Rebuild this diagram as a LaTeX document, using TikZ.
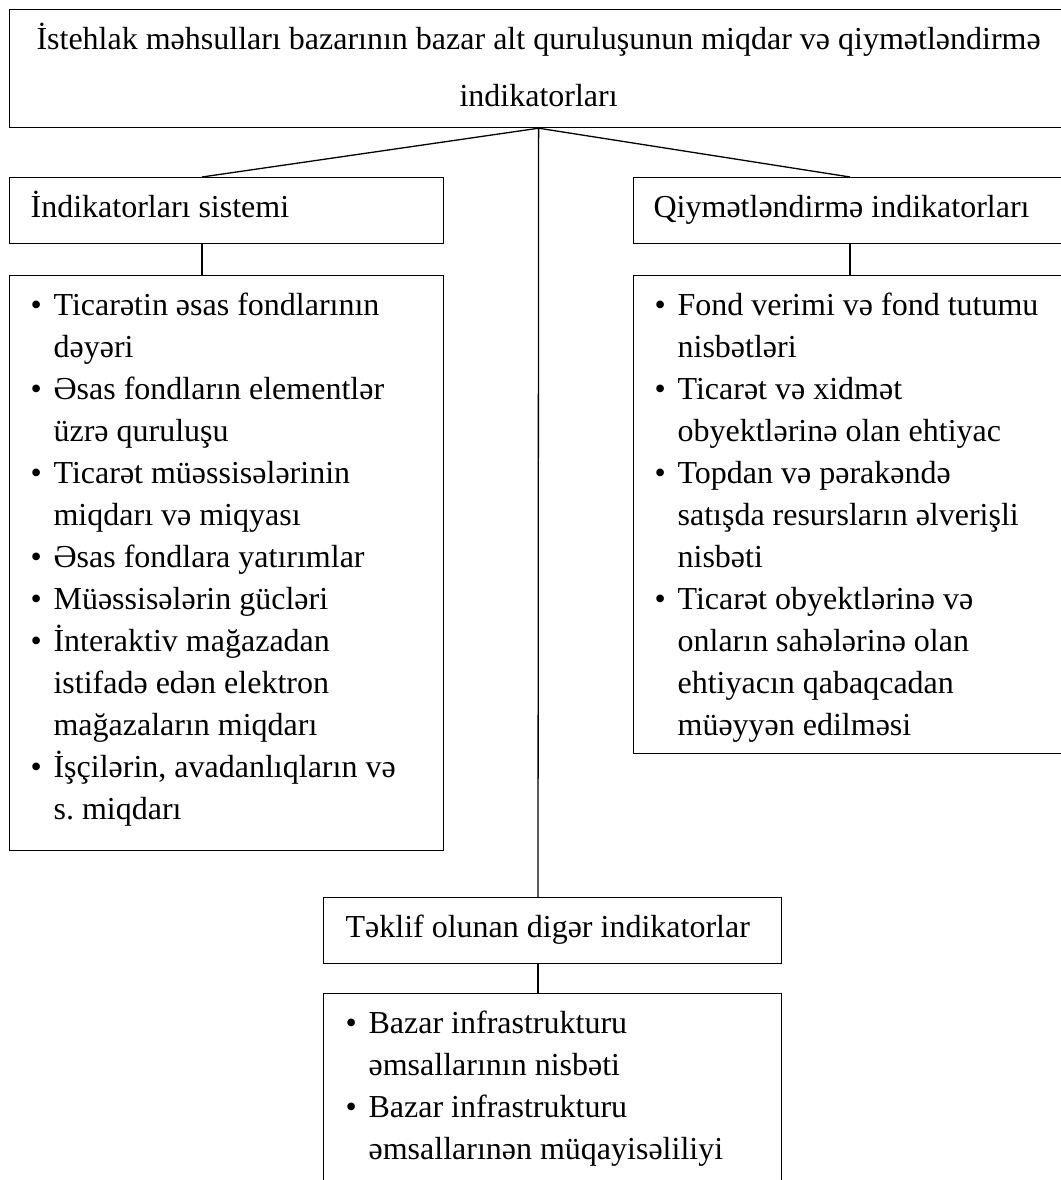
\documentclass[tikz,border=0pt]{standalone}
\usepackage{fontspec}
\setmainfont{Liberation Serif}
\usepackage{tikz}
\usetikzlibrary{positioning}

\newcommand{\cell}[4]{\parbox[c][#2][t]{#1}{\parindent=0pt\leftskip=#3\relax\rightskip=0pt plus 1fil\frenchspacing\fontsize{32}{42}\selectfont\vspace*{10pt}#4}}
\newcommand{\strt}{\rule{0pt}{30pt}}
\newcommand{\itm}{\par\strt\hspace*{-23pt}\makebox[23pt][l]{•}}

\begin{document}
\begin{tikzpicture}[x=1pt, y=-1pt]
\tikzstyle{box} = [draw, line width=1.2pt, inner sep=0pt, anchor=north west]
\tikzstyle{link} = [line width=1.3pt]
\useasboundingbox (0,0) rectangle (1060,1180);
\node[box] (title) at (9,9) {\cell{1058pt}{118pt}{0pt}{\centering\baselineskip=57pt\strt İstehlak məhsulları bazarının bazar alt quruluşunun miqdar və qiymətləndirmə\\indikatorları}};
\node[box] (sysL) at (9,177) {\cell{434pt}{66pt}{21pt}{\strt İndikatorları sistemi}};
\node[box] (sysR) at (633,177) {\cell{440pt}{66pt}{20pt}{\strt Qiymətləndirmə indikatorları}};
\node[box] (lstL) at (9,275) {\cell{434pt}{575pt}{44pt}{%
\itm Ticarətin əsas fondlarının\\dəyəri
\itm Əsas fondların elementlər\\üzrə quruluşu
\itm Ticarət müəssisələrinin\\miqdarı və miqyası
\itm Əsas fondlara yatırımlar
\itm Müəssisələrin gücləri
\itm İnteraktiv mağazadan\\istifadə edən elektron\\mağazaların miqdarı
\itm İşçilərin, avadanlıqların və\\s. miqdarı}};
\node[box] (lstR) at (633,275) {\cell{440pt}{478pt}{44pt}{%
\itm Fond verimi və fond tutumu\\nisbətləri
\itm Ticarət və xidmət\\obyektlərinə olan ehtiyac
\itm Topdan və pərakəndə\\satışda resursların əlverişli\\nisbəti
\itm Ticarət obyektlərinə və\\onların sahələrinə olan\\ehtiyacın qabaqcadan\\müəyyən edilməsi}};
\node[box] (other) at (323,897) {\cell{458pt}{66pt}{22pt}{\strt Təklif olunan digər indikatorlar}};
\node[box] (lstB) at (323,993) {\cell{458pt}{200pt}{45pt}{%
\itm Bazar infrastrukturu\\əmsallarının nisbəti
\itm Bazar infrastrukturu\\əmsallarınən müqayisəliliyi}};
\draw[link] (title.south) -- ([xshift=193pt]sysL.north west);
\draw[link] (title.south) -- ([xshift=217pt]sysR.north west);
\draw[link] (title.south) -- ([xshift=215pt]other.north west);
\draw[link] ([xshift=193pt]sysL.south west) -- ([xshift=193pt]lstL.north west);
\draw[link] ([xshift=217pt]sysR.south west) -- ([xshift=217pt]lstR.north west);
\draw[link] ([xshift=215pt]other.south west) -- ([xshift=215pt]lstB.north west);
\end{tikzpicture}
\end{document}
